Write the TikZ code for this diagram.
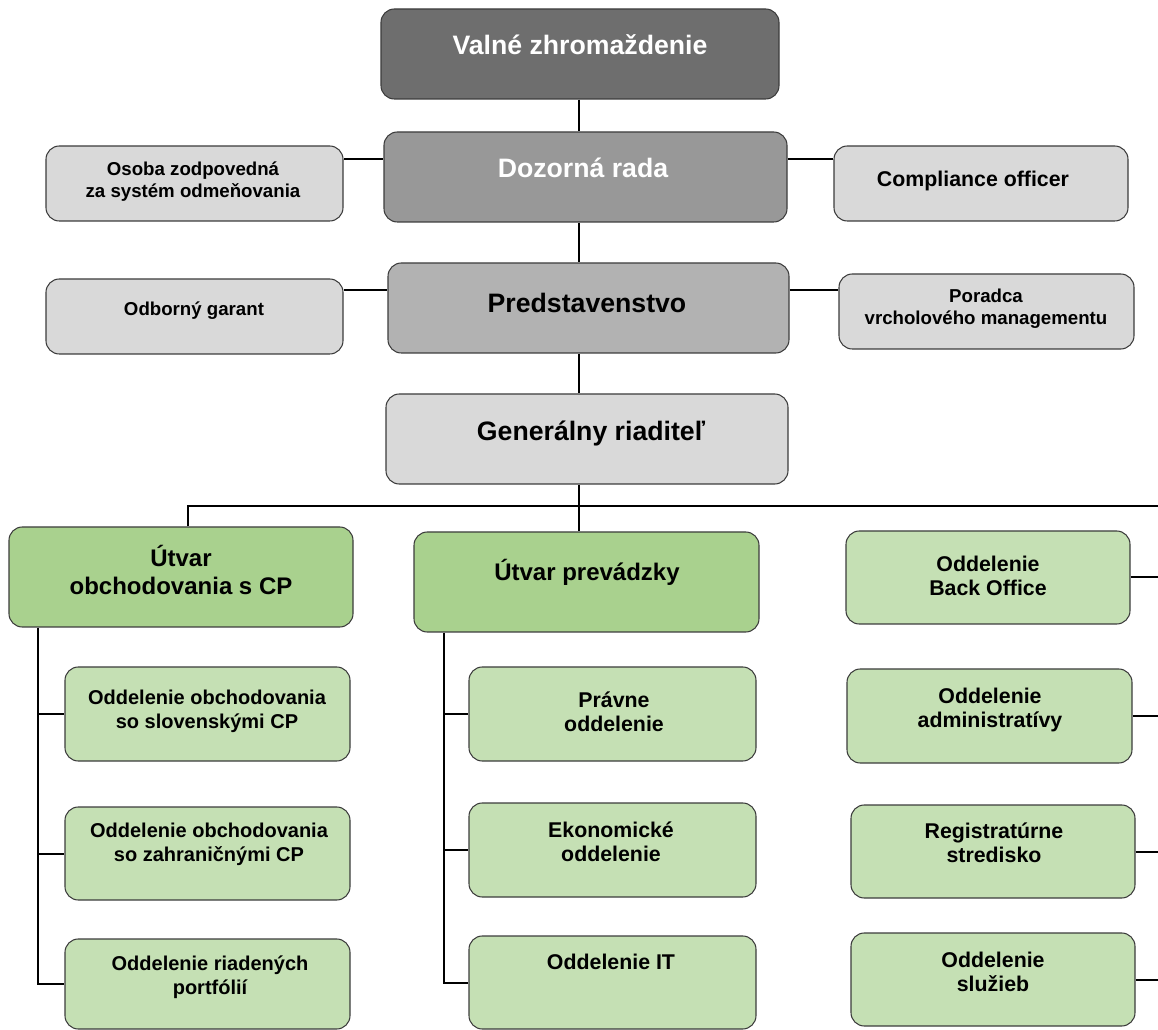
\documentclass[tikz,border=0pt]{standalone}
\usepackage{fontspec}
\setmainfont{Liberation Sans}
\usetikzlibrary{fit}

\definecolor{topgray}{HTML}{6E6E6E}
\definecolor{midgray}{HTML}{989898}
\definecolor{boardgray}{HTML}{B2B2B2}
\definecolor{lightgray}{HTML}{D9D9D9}
\definecolor{unitgreen}{HTML}{A9D18E}
\definecolor{deptgreen}{HTML}{C5E0B4}
\definecolor{edgegray}{HTML}{3C3C3C}

\tikzset{
  box/.style={draw=edgegray, line width=0.8pt, rounded corners=10pt, inner sep=0pt},
  wire/.style={line width=1.5pt},
  huge lbl/.style={font=\fontsize{20}{24}\selectfont\bfseries, align=center, inner sep=0pt},
  unit lbl/.style={font=\fontsize{18}{20.5}\selectfont\bfseries, align=center, inner sep=0pt},
  dept lbl/.style={font=\fontsize{16}{18}\selectfont\bfseries, align=center, inner sep=0pt},
  side lbl/.style={font=\fontsize{14}{16.5}\selectfont\bfseries, align=center, inner sep=0pt}
}

\begin{document}
\begin{tikzpicture}[x=0.75pt,y=-0.75pt]
\useasboundingbox (0,0) rectangle (1158,1030);
\coordinate (spine) at (579,0);
\coordinate (edge) at (1158,0);

% Top levels
\node[box, fill=topgray, fit={(381,9) (779,99)}] (valne) {};
\node[huge lbl, text=white] (valneT) at (580,45) {Valné zhromaždenie};

\node[box, fill=midgray, fit={(384,132) (787,222)}] (doz) {};
\node[huge lbl, text=white] (dozT) at (583,168) {Dozorná rada};

\node[box, fill=lightgray, fit={(46,146) (343,221)}] (osoba) {};
\node[side lbl] (osobaT) at (193,182) {Osoba zodpovedná\\za systém odmeňovania};

\node[box, fill=lightgray, fit={(834,146) (1128,221)}] (comp) {};
\node[side lbl, font=\fontsize{16}{18}\selectfont\bfseries] (compT) at (973,181) {Compliance officer};

\node[box, fill=boardgray, fit={(388,263) (789,353)}] (pred) {};
\node[huge lbl] (predT) at (587,303) {Predstavenstvo};

\node[box, fill=lightgray, fit={(46,279) (343,354)}] (odb) {};
\node[side lbl] (odbT) at (194,311) {Odborný garant};

\node[box, fill=lightgray, fit={(839,274) (1134,349)}] (por) {};
\node[side lbl] (porT) at (986,309) {Poradca\\vrcholového managementu};

\node[box, fill=lightgray, fit={(386,394) (788,484)}] (gen) {};
\node[huge lbl] (genT) at (591,433) {Generálny riaditeľ};

% Units
\node[box, fill=unitgreen, fit={(9,527) (353,627)}] (obch) {};
\node[unit lbl] (obchT) at (181,570) {Útvar\\obchodovania s CP};

\node[box, fill=unitgreen, fit={(414,532) (759,632)}] (prev) {};
\node[unit lbl] (prevT) at (587,572) {Útvar prevádzky};

% Left column
\node[box, fill=deptgreen, fit={(65,667) (350,761)}] (oos1) {};
\node[dept lbl, font=\fontsize{15}{18}\selectfont\bfseries] (oos1T) at (207,711) {Oddelenie obchodovania\\so slovenskými CP};
\node[box, fill=deptgreen, fit={(65,807) (350,900)}] (oos2) {};
\node[dept lbl, font=\fontsize{15}{18}\selectfont\bfseries] (oos2T) at (209,844) {Oddelenie obchodovania\\so zahraničnými CP};
\node[box, fill=deptgreen, fit={(65,939) (350,1029)}] (oos3) {};
\node[dept lbl, font=\fontsize{15}{18}\selectfont\bfseries] (oos3T) at (210,977) {Oddelenie riadených\\portfólií};

% Middle column
\node[box, fill=deptgreen, fit={(469,667) (756,761)}] (prav) {};
\node[dept lbl] (pravT) at (614,712) {Právne\\oddelenie};
\node[box, fill=deptgreen, fit={(469,803) (756,897)}] (eko) {};
\node[dept lbl] (ekoT) at (611,842) {Ekonomické\\oddelenie};
\node[box, fill=deptgreen, fit={(469,936) (756,1029)}] (it) {};
\node[dept lbl] (itT) at (611,962) {Oddelenie IT};

% Right column
\node[box, fill=deptgreen, fit={(846,531) (1130,624)}] (bo) {};
\node[dept lbl] (boT) at (988,576) {Oddelenie\\Back Office};
\node[box, fill=deptgreen, fit={(847,669) (1132,763)}] (adm) {};
\node[dept lbl] (admT) at (990,710) {Oddelenie\\administratívy};
\node[box, fill=deptgreen, fit={(851,805) (1135,898)}] (reg) {};
\node[dept lbl] (regT) at (994,843) {Registratúrne\\stredisko};
\node[box, fill=deptgreen, fit={(851,933) (1135,1026)}] (slu) {};
\node[dept lbl] (sluT) at (993,972) {Oddelenie\\služieb};

% Connectors
\draw[wire] (valne.south -| spine) -- (doz.north -| spine);
\draw[wire] (doz.south -| spine) -- (pred.north -| spine);
\draw[wire] (pred.south -| spine) -- (gen.north -| spine);
\draw[wire] (osoba.east |- 0,159) -- (doz.west |- 0,159);
\draw[wire] (doz.east |- 0,159) -- (comp.west |- 0,159);
\draw[wire] (odb.east |- 0,290) -- (pred.west |- 0,290);
\draw[wire] (pred.east |- 0,290) -- (por.west |- 0,290);
\draw[wire] (gen.south -| spine) -- (prev.north -| spine);
\draw[wire] (obch.north -| 188,0) |- (edge |- 0,506);

\draw[wire] (obch.south -| 38,0) |- (oos3.west);
\draw[wire] (oos1.west -| 38,0) -- (oos1.west);
\draw[wire] (oos2.west -| 38,0) -- (oos2.west);

\draw[wire] (prev.south -| 444,0) |- (it.west);
\draw[wire] (prav.west -| 444,0) -- (prav.west);
\draw[wire] (eko.west -| 444,0) -- (eko.west);

\foreach \dept in {bo,adm,reg,slu}
  \draw[wire] (\dept.east) -- (\dept.east -| edge);
\end{tikzpicture}
\end{document}
